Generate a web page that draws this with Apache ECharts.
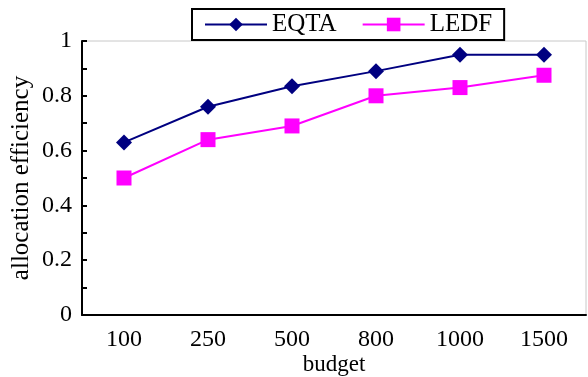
<!DOCTYPE html>
<html>
<head>
<meta charset="utf-8">
<script src="https://cdn.jsdelivr.net/npm/echarts@6/dist/echarts.min.js"></script>
<style>
  html, body { margin: 0; padding: 0; background: #fff; }
  #chart { width: 588px; height: 377px; }
</style>
</head>
<body>
<div id="chart"></div>
<script>
const budgets = ['100', '250', '500', '800', '1000', '1500']
const eqta = [0.63, 0.76, 0.835, 0.89, 0.95, 0.95]
const ledf = [0.50, 0.64, 0.69, 0.80, 0.83, 0.875]

const font = "'Liberation Serif', 'Times New Roman', serif"
const chart = echarts.init(document.getElementById('chart'))

const options = {
  animation: false,
  textStyle: { fontFamily: font, color: '#000' },
  grid: {
    left: 82, right: 2, top: 41, bottom: 62,
    outerBoundsMode: 'none',
    containLabel: false,
    show: true,
    borderColor: '#c8c8c8',
    borderWidth: 1
  },
  legend: {
    left: 192,
    top: 9,
    padding: [3, 12, 3, 12],
    itemWidth: 62,
    itemHeight: 17,
    itemGap: 25,
    borderColor: '#000',
    borderWidth: 2,
    backgroundColor: '#fff',
    textStyle: { fontFamily: font, fontSize: 25, color: '#000' },
    data: ['EQTA', 'LEDF']
  },
  xAxis: [
    {
      type: 'category',
      data: budgets,
      name: 'budget',
      nameLocation: 'middle',
      nameGap: 38,
      nameMoveOverlap: false,
      nameTextStyle: { fontFamily: font, fontSize: 23, color: '#000' },
      axisLine: { lineStyle: { color: '#000', width: 2 } },
      axisTick: { inside: true, length: 6, lineStyle: { color: '#000', width: 2 } },
      axisLabel: { fontFamily: font, fontSize: 24, color: '#000', margin: 13 },
      splitLine: { show: false }
    },
    {
      // 中点刻度
      type: 'category',
      data: budgets,
      position: 'bottom',
      axisLine: { show: false },
      axisTick: { inside: true, alignWithLabel: true, length: 5, lineStyle: { color: '#000', width: 2 } },
      axisLabel: { show: false },
      splitLine: { show: false }
    }
  ],
  yAxis: {
    type: 'value',
    min: 0,
    max: 1,
    interval: 0.2,
    name: 'allocation efficiency',
    nameLocation: 'middle',
    nameGap: 48,
    nameMoveOverlap: false,
    nameTextStyle: { fontFamily: font, fontSize: 25, color: '#000' },
    axisLine: { show: true, lineStyle: { color: '#000', width: 2 } },
    axisTick: { show: true, inside: true, length: 5, lineStyle: { color: '#000', width: 2 } },
    minorTick: { show: true, splitNumber: 2, length: 5, lineStyle: { color: '#000', width: 2 } },
    axisLabel: { fontFamily: font, fontSize: 24, color: '#000', margin: 10 },
    splitLine: { show: false }
  },
  series: [
    {
      name: 'EQTA',
      type: 'line',
      data: eqta,
      symbol: 'diamond',
      symbolSize: 16,
      lineStyle: { color: '#000080', width: 2 },
      itemStyle: { color: '#000080' }
    },
    {
      name: 'LEDF',
      type: 'line',
      data: ledf,
      symbol: 'rect',
      symbolSize: 15,
      lineStyle: { color: '#ff00ff', width: 2 },
      itemStyle: { color: '#ff00ff' }
    }
  ]
}
chart.setOption(options)
</script>
</body>
</html>
